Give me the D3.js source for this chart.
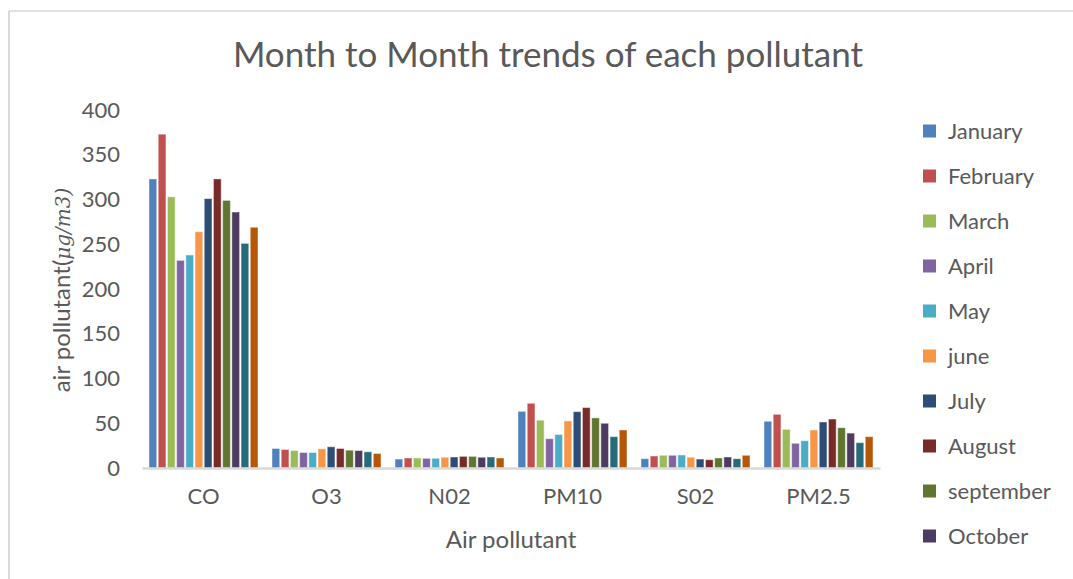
<!DOCTYPE html>
<html>
<head>
<meta charset="utf-8">
<script src="https://cdn.jsdelivr.net/npm/d3@7"></script>
<style>
  body { margin: 0; background: #fff; }
  text { font-family: Lato, "Open Sans", sans-serif; fill: #595959; }
</style>
</head>
<body>
<svg id="chart" width="1073" height="579"></svg>
<script>
// categories and months
const pollutants = ["CO", "O3", "N02", "PM10", "S02", "PM2.5"];
const months = ["January", "February", "March", "April", "May", "june", "July",
                "August", "september", "October", "November", "December"];
const colors = ["#4F81BD", "#C0504D", "#9BBB59", "#8064A2", "#4BACC6", "#F79646",
                "#2C4D75", "#772C2A", "#5F7530", "#4D3B62", "#276A7C", "#B65708"];

// values per pollutant, one per month
const co   = [323, 373, 303, 232, 238, 264, 301, 323, 299, 286, 251, 269];
const o3   = [21.8, 20.7, 19.5, 17.3, 17.3, 21.4, 23.7, 21.8, 19.9, 19.5, 18.1, 16.2];
const no2  = [10, 11.2, 11.2, 10.8, 10.8, 12, 12.3, 13, 13, 12, 12.3, 11.2];
const pm10 = [63.3, 72.3, 53.4, 32.7, 37.4, 52.6, 63, 67.5, 56, 50, 35, 42.5];
const so2  = [10.4, 13.4, 14.2, 14.2, 14.5, 12, 10, 9.3, 11.2, 12.3, 10.4, 14.2];
const pm25 = [52.2, 60, 43.2, 27.6, 30.5, 42.5, 51.4, 54.7, 45, 39, 28.3, 35];

const yTicks = [0, 50, 100, 150, 200, 250, 300, 350, 400];

const series = [co, o3, no2, pm10, so2, pm25];
const table = pollutants.map((p, i) => ({
    name: p,
    values: months.map((m, j) => ({ month: m, value: series[i][j] }))
}));

let svg = d3.select("#chart");

// chart frame (left + top edges visible)
svg.append("line").attr("x1", 9).attr("x2", 1073).attr("y1", 11).attr("y2", 11)
    .attr("stroke", "#d9d9d9").attr("stroke-width", 1.5);
svg.append("line").attr("x1", 9).attr("x2", 9).attr("y1", 11).attr("y2", 579)
    .attr("stroke", "#d9d9d9").attr("stroke-width", 2);

// scales
let x0 = d3.scaleBand().domain(pollutants).range([142, 880])
    .paddingInner(0.114).paddingOuter(0.057);
let x1 = d3.scaleBand().domain(months).range([0, x0.bandwidth()]).paddingInner(0.16);
let y = d3.scaleLinear().domain([0, 400]).range([468, 110]);
let color = d3.scaleOrdinal().domain(months).range(colors);

// bars
let groups = svg.selectAll("g.group").data(table)
    .join("g")
    .attr("class", "group")
    .attr("transform", d => `translate(${x0(d.name)},0)`);

groups.selectAll("rect").data(d => d.values)
    .join("rect")
    .attr("x", d => x1(d.month))
    .attr("y", d => y(d.value))
    .attr("width", x1.bandwidth())
    .attr("height", d => y(0) - y(d.value))
    .attr("fill", d => color(d.month))
    .attr("stroke", "#ffffff")
    .attr("stroke-opacity", 0.45)
    .attr("stroke-width", 1);

// y axis labels (no line, no ticks)
let yAxis = svg.append("g")
    .attr("transform", "translate(120,0)")
    .call(d3.axisLeft(y).tickValues(yTicks).tickSize(0).tickPadding(0));
yAxis.select(".domain").remove();
yAxis.selectAll("text")
    .style("font-family", "Lato, sans-serif")
    .style("font-size", "22px")
    .attr("fill", "#595959");

// x axis
let xAxis = svg.append("g")
    .attr("transform", "translate(0,468)")
    .call(d3.axisBottom(x0).tickSize(0).tickPadding(20));
xAxis.select(".domain").attr("stroke", "#d9d9d9").attr("stroke-width", 2.5);
xAxis.selectAll("text")
    .style("font-family", "Lato, sans-serif")
    .style("font-size", "22px")
    .attr("fill", "#595959");

// title
svg.append("text")
    .attr("x", 548).attr("y", 67)
    .attr("text-anchor", "middle")
    .style("font-size", "35px")
    .text("Month to Month trends of each pollutant");

// axis titles
svg.append("text")
    .attr("x", 511).attr("y", 548)
    .attr("text-anchor", "middle")
    .style("font-size", "24px")
    .text("Air pollutant");

let yTitle = svg.append("text")
    .attr("transform", "translate(70,290) rotate(-90)")
    .attr("text-anchor", "middle")
    .style("font-size", "24px");
yTitle.append("tspan").text("air pollutant(");
yTitle.append("tspan")
    .style("font-family", "'DejaVu Serif', serif")
    .style("font-style", "italic")
    .style("font-size", "20px")
    .text("μg/m3)");

// legend -- the original is cut off after October
let legend = svg.selectAll("g.legend").data(months.slice(0, 10))
    .join("g")
    .attr("class", "legend")
    .attr("transform", (d, i) => `translate(923,${131 + i * 45})`);

legend.append("rect")
    .attr("x", 0).attr("y", -6.5)
    .attr("width", 13).attr("height", 13)
    .attr("fill", d => color(d));

legend.append("text")
    .attr("x", 25).attr("y", 8)
    .style("font-size", "22px")
    .text(d => d);
</script>
</body>
</html>
